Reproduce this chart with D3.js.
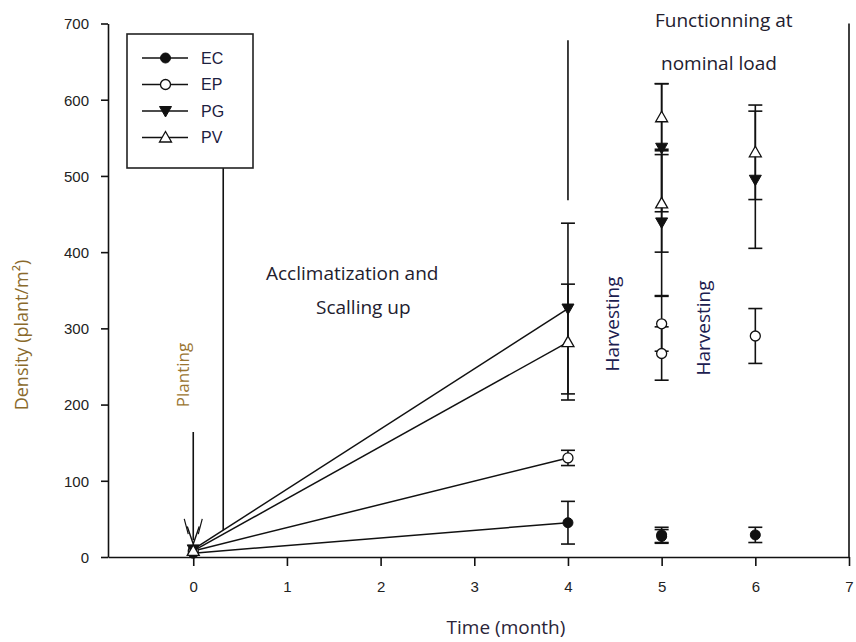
<!DOCTYPE html>
<html>
<head>
<meta charset="utf-8">
<script src="https://cdn.jsdelivr.net/npm/d3@7/dist/d3.min.js"></script>
<style>
  html, body { margin: 0; padding: 0; background: #fff; }
  svg { display: block; }
</style>
</head>
<body>
<svg id="chart" width="856" height="642"></svg>
<script>
// ---------------- DATA ----------------
const seriesNames = ["EC", "EP", "PG", "PV"];
const timeMonths = [0, 4, 5, 5, 6];
const ecValues = [5, 45, 29, 27, 29];
const ecErrors = [0, 28, 10, 9, 10];
const epValues = [8, 130, 306, 267, 290];
const epErrors = [0, 10, 36, 35, 36];
const pgValues = [10, 326, 537, 439, 495];
const pgErrors = [0, 112, 84, 96, 90];
const pvValues = [8, 282, 577, 464, 531];
const pvErrors = [0, 76, 44, 64, 62];
const connectedPoints = 2; // first two points (0 and 4 months) are joined by lines
const xTicks = [0, 1, 2, 3, 4, 5, 6, 7];
const yTicks = [0, 100, 200, 300, 400, 500, 600, 700];

// ---------------- SETUP ----------------
const svg = d3.select("#chart");
const x = d3.scaleLinear().domain([-0.91, 7]).range([108, 849]);
const y = d3.scaleLinear().domain([0, 700]).range([557, 23.5]);

const valuesBy = { EC: ecValues, EP: epValues, PG: pgValues, PV: pvValues };
const errorsBy = { EC: ecErrors, EP: epErrors, PG: pgErrors, PV: pvErrors };
const data = seriesNames.map(name => ({
  name,
  points: timeMonths.map((t, i) => ({ t, v: valuesBy[name][i], e: errorsBy[name][i] }))
}));

const ink = "#111";
const tickFont = "'Liberation Sans', Arial, sans-serif";
const noteFont = "'Open Sans', 'Noto Sans', sans-serif";

// ---------------- AXES ----------------
const xAxis = svg.append("g").attr("transform", `translate(0,${y(0)})`)
  .call(d3.axisBottom(x).tickValues(xTicks).tickSize(9).tickPadding(15).tickSizeOuter(0));
const yAxis = svg.append("g").attr("transform", `translate(${x.range()[0]},0)`)
  .call(d3.axisLeft(y).tickValues(yTicks).tickSize(7).tickPadding(12).tickSizeOuter(0));
[xAxis, yAxis].forEach(g => {
  g.select(".domain").attr("stroke", ink).attr("stroke-width", 1.6);
  g.selectAll(".tick line").attr("stroke", ink).attr("stroke-width", 1.6);
  g.selectAll(".tick text").attr("fill", "#222").style("font-family", tickFont).style("font-size", "15px");
});
yAxis.selectAll(".tick text").attr("dy", "0.36em");

svg.append("text")
  .attr("x", 506).attr("y", 634)
  .attr("text-anchor", "middle")
  .style("font-family", noteFont).style("font-size", "19px").attr("fill", "#2a2438")
  .text("Time (month)");

svg.append("text")
  .attr("transform", `translate(28,335) rotate(-90)`)
  .attr("text-anchor", "middle")
  .style("font-family", noteFont).style("font-size", "18px").attr("fill", "#8a6a2c")
  .text("Density (plant/m²)");

// ---------------- ANNOTATION LINES ----------------
const annotLine = (x1, y1, x2, y2) => svg.append("line")
  .attr("x1", x(x1)).attr("y1", y(y1)).attr("x2", x(x2)).attr("y2", y(y2))
  .attr("stroke", ink).attr("stroke-width", 1.6);
annotLine(0.32, 35, 0.32, 514);   // end of planting
annotLine(4, 468, 4, 678);        // start of nominal load
annotLine(7, 0, 7, 700);          // right boundary

// planting arrow
annotLine(0, 22, 0, 164);
svg.append("path")
  .attr("d", `M${x(0) - 6},${y(40)} L${x(0)},${y(17)} L${x(0) + 6},${y(40)}`)
  .attr("fill", "none").attr("stroke", ink).attr("stroke-width", 1.4);
svg.append("path")
  .attr("d", `M${x(0) - 9},${y(50)} L${x(0) - 5},${y(30)} M${x(0) + 9},${y(50)} L${x(0) + 5},${y(30)}`)
  .attr("fill", "none").attr("stroke", ink).attr("stroke-width", 1.2);

// ---------------- SERIES ----------------
const line = d3.line().x(d => x(d.t)).y(d => y(d.v));
const plot = svg.append("g");

data.forEach(s => {
  plot.append("path")
    .datum(s.points.slice(0, connectedPoints))
    .attr("d", line)
    .attr("fill", "none").attr("stroke", ink).attr("stroke-width", 1.5);
});

// error bars
data.forEach(s => {
  s.points.filter(p => p.e > 0).forEach(p => {
    const cx = x(p.t);
    const g = plot.append("g").attr("stroke", ink).attr("stroke-width", 1.6);
    g.append("line").attr("x1", cx).attr("x2", cx).attr("y1", y(p.v - p.e)).attr("y2", y(p.v + p.e));
    [p.v - p.e, p.v + p.e].forEach(v =>
      g.append("line").attr("x1", cx - 7).attr("x2", cx + 7).attr("y1", y(v)).attr("y2", y(v)));
  });
});

// markers
function drawMarker(g, name, cx, cy) {
  if (name === "EC") {
    g.append("circle").attr("cx", cx).attr("cy", cy).attr("r", 5).attr("fill", ink).attr("stroke", ink);
  } else if (name === "EP") {
    g.append("circle").attr("cx", cx).attr("cy", cy).attr("r", 5).attr("fill", "#fff").attr("stroke", ink).attr("stroke-width", 1.3);
  } else if (name === "PG") {
    g.append("path").attr("d", `M${cx - 6},${cy - 4.5} L${cx + 6},${cy - 4.5} L${cx},${cy + 6} Z`)
      .attr("fill", ink).attr("stroke", ink).attr("stroke-width", 1);
  } else {
    g.append("path").attr("d", `M${cx - 6},${cy + 4.5} L${cx + 6},${cy + 4.5} L${cx},${cy - 6} Z`)
      .attr("fill", "#fff").attr("stroke", ink).attr("stroke-width", 1.3);
  }
}
data.forEach(s => {
  s.points.forEach(p => drawMarker(plot, s.name, x(p.t), y(p.v)));
});

// ---------------- TEXT NOTES ----------------
const note = (txt, tx, ty, anchor, rot, color, size) => {
  const t = svg.append("text")
    .style("font-family", noteFont).style("font-size", (size || 19) + "px")
    .attr("fill", color || "#22202e").attr("text-anchor", anchor || "start")
    .text(txt);
  if (rot) t.attr("transform", `translate(${tx},${ty}) rotate(${rot})`);
  else t.attr("x", tx).attr("y", ty);
};
note("Acclimatization and", 266, 280);
note("Scalling up", 316, 314);
note("Functionning at", 655, 27);
note("nominal load", 661, 70);
note("Harvesting", 619, 324, "middle", -90, "#1c2050", 19);
note("Harvesting", 710, 328, "middle", -90, "#1c2050", 19);
note("Planting", 189, 375, "middle", -90, "#9a7430", 17);

// ---------------- LEGEND ----------------
const legend = svg.append("g");
legend.append("rect").attr("x", 127).attr("y", 34).attr("width", 126).attr("height", 134)
  .attr("fill", "#fff").attr("stroke", "#222").attr("stroke-width", 1.6);
seriesNames.forEach((name, i) => {
  const ly = 58 + i * 26.5;
  legend.append("line").attr("x1", 142).attr("x2", 188).attr("y1", ly).attr("y2", ly)
    .attr("stroke", ink).attr("stroke-width", 1.5);
  drawMarker(legend, name, 165.5, ly);
  legend.append("text").attr("x", 201).attr("y", ly).attr("dy", "0.36em")
    .style("font-family", tickFont).style("font-size", "16px").attr("fill", "#1c2040")
    .text(name);
});
</script>
</body>
</html>
